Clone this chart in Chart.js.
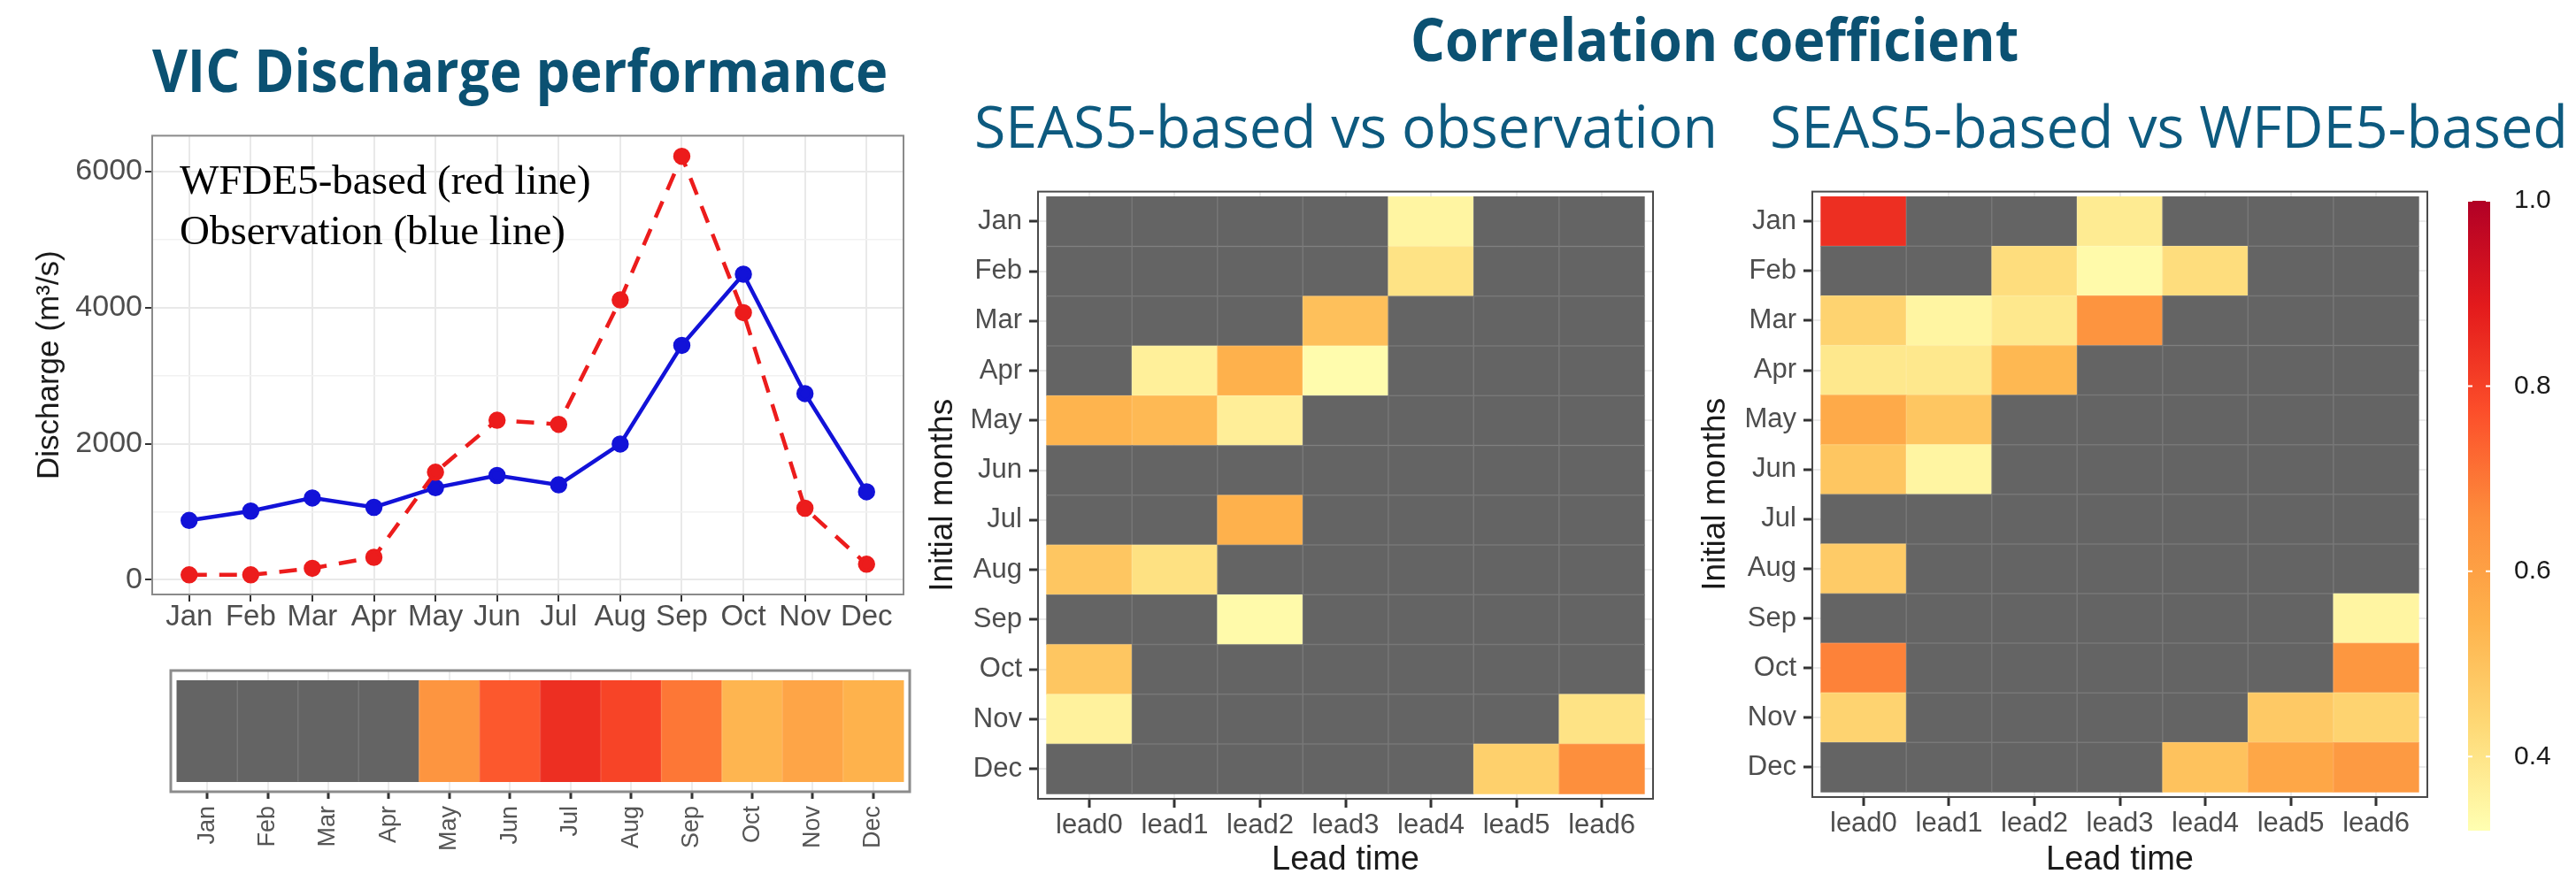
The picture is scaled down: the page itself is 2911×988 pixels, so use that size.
<!DOCTYPE html>
<html>
<head>
<meta charset="utf-8">
<script src="https://cdn.jsdelivr.net/npm/chart.js@4.4.1/dist/chart.umd.min.js"></script>
<style>
  html, body { margin: 0; padding: 0; background: #fff; }
  #page { position: relative; width: 2911px; height: 988px; overflow: hidden; background: #fff; }
  #page canvas { position: absolute; }
  .ttl { position: absolute; white-space: nowrap; transform-origin: 0 0; line-height: 1;
         font-family: 'Open Sans', 'Noto Sans', sans-serif; font-size: 66px; }
  .bold { font-weight: 700; color: #0b5172; }
  .reg { font-weight: 400; color: #0d5a7f; }
</style>
</head>
<body>
<div id="page">
  <canvas id="lineChart" width="1040" height="600" style="left:0;top:130px"></canvas>
  <canvas id="stripChart" width="1040" height="248" style="left:0;top:740px"></canvas>
  <canvas id="heatObs" width="860" height="798" style="left:1040px;top:190px"></canvas>
  <canvas id="heatWfde" width="860" height="798" style="left:1900px;top:190px"></canvas>
  <canvas id="colorBar" width="151" height="798" style="left:2760px;top:190px"></canvas>
  <div class="ttl bold" id="tVic">VIC Discharge performance</div>
  <div class="ttl bold" id="tCorr">Correlation coefficient</div>
  <div class="ttl reg" id="tObs">SEAS5-based vs observation</div>
  <div class="ttl reg" id="tWfde">SEAS5-based vs WFDE5-based</div>
</div>
<script>
// ---- data ----
const months = ['Jan', 'Feb', 'Mar', 'Apr', 'May', 'Jun', 'Jul', 'Aug', 'Sep', 'Oct', 'Nov', 'Dec'];
const leads = ['lead0', 'lead1', 'lead2', 'lead3', 'lead4', 'lead5', 'lead6'];

// discharge (m3/s)
const obsDischarge = [873, 1010, 1203, 1065, 1353, 1533, 1395, 1996, 3445, 4490, 2736, 1293];
const wfde5Discharge = [73, 73, 169, 331, 1581, 2345, 2285, 4112, 6223, 3926, 1052, 229];
const dischargeTicks = [0, 2000, 4000, 6000];
const dischargeMinor = [1000, 3000, 5000];

// correlation WFDE5-based vs observation, per month (null = grey)
const monthlyCorr = [null, null, null, null, 0.635, 0.755, 0.84, 0.795, 0.70, 0.537, 0.585, 0.547];

// rows = initial month, columns = lead0..lead6, null = grey cell
const corrSeasObs = [
  [null, null, null, null, 0.35, null, null],
  [null, null, null, null, 0.405, null, null],
  [null, null, null, 0.507, null, null, null],
  [null, 0.365, 0.55, 0.33, null, null, null],
  [0.54, 0.525, 0.37, null, null, null, null],
  [null, null, null, null, null, null, null],
  [null, null, 0.55, null, null, null, null],
  [0.49, 0.41, null, null, null, null, null],
  [null, null, 0.335, null, null, null, null],
  [0.49, null, null, null, null, null, null],
  [0.36, null, null, null, null, null, 0.405],
  [null, null, null, null, null, 0.46, 0.655]
];
const corrSeasWfde5 = [
  [0.84, null, null, 0.38, null, null, null],
  [null, null, 0.42, 0.335, 0.42, null, null],
  [0.45, 0.35, 0.39, 0.64, null, null, null],
  [0.39, 0.39, 0.53, null, null, null, null],
  [0.57, 0.49, null, null, null, null, null],
  [0.49, 0.35, null, null, null, null, null],
  [null, null, null, null, null, null, null],
  [0.475, null, null, null, null, null, null],
  [null, null, null, null, null, null, 0.35],
  [0.68, null, null, null, null, null, 0.63],
  [0.45, null, null, null, null, 0.48, 0.45],
  [null, null, null, null, 0.50, 0.58, 0.62]
];

const colorLimits = [0.32, 1.0];
const colorbarTicks = [0.4, 0.6, 0.8, 1.0];
const ylOrRd = ['#ffffb2', '#fed976', '#feb24c', '#fd8d3c', '#fc4e2a', '#e31a1c', '#b10026'];
const naColor = '#646464';

// ---- helpers ----
function hexRgb(h) {
  return [parseInt(h.slice(1, 3), 16), parseInt(h.slice(3, 5), 16), parseInt(h.slice(5, 7), 16)];
}
function corrColor(v) {
  if (v === null || v === undefined) return naColor;
  let t = (v - colorLimits[0]) / (colorLimits[1] - colorLimits[0]);
  t = Math.max(0, Math.min(1, t)) * (ylOrRd.length - 1);
  const i = Math.min(Math.floor(t), ylOrRd.length - 2);
  const f = t - i;
  const a = hexRgb(ylOrRd[i]), b = hexRgb(ylOrRd[i + 1]);
  const c = a.map((x, k) => Math.round(x + (b[k] - x) * f));
  return 'rgb(' + c.join(',') + ')';
}

Chart.defaults.font.family = "'Liberation Sans', Arial, sans-serif";
Chart.defaults.animation = false;

// frame around the panel (ggplot theme_bw border)
const panelBorder = {
  id: 'panelBorder',
  afterDatasetsDraw(chart, args, opts) {
    const { ctx, chartArea: a } = chart;
    ctx.save();
    ctx.strokeStyle = opts.color || '#333';
    ctx.lineWidth = opts.width || 2;
    ctx.strokeRect(a.left, a.top, a.right - a.left, a.bottom - a.top);
    ctx.restore();
  }
};

// faint seams between tiles
const tileSeams = {
  id: 'tileSeams',
  afterDatasetsDraw(chart, args, opts) {
    const { ctx, scales: { x, y } } = chart;
    const y0 = y.getPixelForValue(opts.rows ? -0.5 : 0), y1 = y.getPixelForValue(opts.rows ? opts.rows - 0.5 : 1);
    const x0 = x.getPixelForValue(-0.5), x1 = x.getPixelForValue(opts.cols - 0.5);
    ctx.save();
    ctx.strokeStyle = 'rgba(255,255,255,0.13)';
    ctx.lineWidth = 1.5;
    ctx.beginPath();
    for (let i = 0; i < opts.cols - 1; i++) {
      const px = x.getPixelForValue(i + 0.5);
      ctx.moveTo(px, y0); ctx.lineTo(px, y1);
    }
    for (let j = 0; j < (opts.rows || 1) - 1; j++) {
      const py = y.getPixelForValue(j + 0.5);
      ctx.moveTo(x0, py); ctx.lineTo(x1, py);
    }
    ctx.stroke();
    ctx.restore();
  }
};

// text annotation inside the discharge plot
const noteText = {
  id: 'noteText',
  afterDraw(chart, args, opts) {
    const { ctx, chartArea: a } = chart;
    ctx.save();
    ctx.fillStyle = '#000';
    ctx.font = "47px 'Liberation Serif', 'Times New Roman', serif";
    ctx.textBaseline = 'alphabetic';
    opts.lines.forEach((t, i) => ctx.fillText(t, a.left + 31, a.top + 66 + i * 57));
    ctx.restore();
  }
};

// ---- discharge line chart ----
new Chart(document.getElementById('lineChart'), {
  type: 'line',
  data: {
    datasets: [
      {
        label: 'WFDE5-based',
        data: wfde5Discharge.map((v, i) => ({ x: i, y: v })),
        borderColor: '#ec1c1c', backgroundColor: '#ec1c1c',
        pointBackgroundColor: '#ec1c1c', pointBorderColor: '#ec1c1c',
        borderWidth: 4.5, borderDash: [20, 14], pointRadius: 7.5, tension: 0
      },
      {
        label: 'Observation',
        data: obsDischarge.map((v, i) => ({ x: i, y: v })),
        borderColor: '#1212d8', backgroundColor: '#1212d8',
        pointBackgroundColor: '#1212d8', pointBorderColor: '#1212d8',
        borderWidth: 4.5, pointRadius: 7.5, tension: 0
      }
    ]
  },
  plugins: [panelBorder, noteText],
  options: {
    responsive: false,
    devicePixelRatio: 1,
    layout: { padding: { left: 0, top: 14, right: 19, bottom: 0 } },
    plugins: {
      legend: { display: false },
      tooltip: { enabled: false },
      panelBorder: { color: '#8a8a8a', width: 2 },
      noteText: { lines: ['WFDE5-based (red line)', 'Observation (blue line)'] }
    },
    scales: {
      x: {
        type: 'linear', min: -0.6, max: 11.6,
        afterBuildTicks: s => { s.ticks = months.map((m, i) => ({ value: i })); },
        afterFit: s => { s.height = 58; },
        ticks: { callback: v => months[v], autoSkip: false, maxRotation: 0, padding: 1,
                 font: { size: 33, lineHeight: 1 }, color: '#4d4d4d' },
        grid: { color: '#e9e9e9', lineWidth: 2, tickLength: 8, tickColor: '#333', tickWidth: 2 },
        border: { display: false }
      },
      y: {
        min: -215, max: 6525,
        afterBuildTicks: s => {
          s.ticks = dischargeTicks.concat(dischargeMinor).sort((a, b) => a - b).map(v => ({ value: v }));
        },
        afterFit: s => { s.width = 172; },
        ticks: { callback: v => (dischargeTicks.includes(v) ? String(v) : ''), padding: 3,
                 font: { size: 34 }, color: '#4d4d4d' },
        grid: {
          color: c => (c.tick && dischargeTicks.includes(c.tick.value) ? '#e9e9e9' : '#f1f1f1'),
          lineWidth: c => (c.tick && dischargeTicks.includes(c.tick.value) ? 2 : 1.5),
          tickColor: c => (c.tick && dischargeTicks.includes(c.tick.value) ? '#333' : 'rgba(0,0,0,0)'),
          tickLength: 8, tickWidth: 2
        },
        border: { display: false },
        title: { display: true, text: 'Discharge (m³/s)', color: '#1a1a1a',
                 font: { size: 35 }, padding: { top: 35, bottom: 0 } }
      }
    }
  }
});

// ---- monthly correlation strip ----
new Chart(document.getElementById('stripChart'), {
  type: 'bar',
  data: {
    datasets: [{
      data: months.map((m, i) => ({ x: i, y: [0, 1], v: monthlyCorr[i] })),
      backgroundColor: c => corrColor(c.raw ? c.raw.v : null),
      borderWidth: 0, barPercentage: 1, categoryPercentage: 1
    }]
  },
  plugins: [tileSeams, panelBorder],
  options: {
    responsive: false,
    devicePixelRatio: 1,
    layout: { padding: { left: 193, top: 18, right: 12, bottom: 0 } },
    plugins: {
      legend: { display: false },
      tooltip: { enabled: false },
      tileSeams: { cols: months.length, rows: 0 },
      panelBorder: { color: '#8c8c8c', width: 3 }
    },
    scales: {
      x: {
        type: 'linear', min: -0.6, max: 11.6, offset: false,
        afterBuildTicks: s => { s.ticks = months.map((m, i) => ({ value: i })); },
        afterFit: s => { s.height = 93; },
        ticks: { callback: v => months[v], autoSkip: false, minRotation: 90, maxRotation: 90,
                 padding: 8, font: { size: 27 }, color: '#555' },
        grid: { offset: false, color: '#ececec', lineWidth: 2, tickLength: 8, tickColor: '#333', tickWidth: 3 },
        border: { display: false }
      },
      y: { display: false, min: -0.1, max: 1.1 }
    }
  }
});

// ---- lead-time heatmaps ----
function heatCells(matrix) {
  const cells = [];
  matrix.forEach((row, r) => row.forEach((v, c) => cells.push({ x: c, y: [r - 0.5, r + 0.5], v: v })));
  return cells;
}

function heatmap(id, matrix, yWidth, yTitlePad, padRight, padTop, xHeight) {
  return new Chart(document.getElementById(id), {
    type: 'bar',
    data: {
      datasets: [{
        data: heatCells(matrix),
        backgroundColor: c => corrColor(c.raw ? c.raw.v : null),
        borderWidth: 0, barPercentage: 1, categoryPercentage: 1
      }]
    },
    plugins: [tileSeams, panelBorder],
    options: {
      responsive: false,
      devicePixelRatio: 1,
      layout: { padding: { left: 0, top: padTop, right: padRight, bottom: 0 } },
      plugins: {
        legend: { display: false },
        tooltip: { enabled: false },
        tileSeams: { cols: leads.length, rows: months.length },
        panelBorder: { color: '#4a4a4a', width: 2 }
      },
      scales: {
        x: {
          type: 'linear', min: -0.6, max: leads.length - 0.4, offset: false,
          afterBuildTicks: s => { s.ticks = leads.map((l, i) => ({ value: i })); },
          afterFit: s => { s.height = xHeight; },
          ticks: { callback: v => leads[v], autoSkip: false, maxRotation: 0, padding: 2,
                   font: { size: 31 }, color: '#4d4d4d' },
          grid: { offset: false, color: '#ebebeb', lineWidth: 2, tickLength: 10, tickColor: '#333', tickWidth: 3 },
          border: { display: false },
          title: { display: true, text: 'Lead time', color: '#1a1a1a',
                   font: { size: 38, lineHeight: 0.8 }, padding: { top: 0, bottom: 0 } }
        },
        y: {
          type: 'linear', min: -0.6, max: months.length - 0.4, reverse: true,
          afterBuildTicks: s => { s.ticks = months.map((m, i) => ({ value: i })); },
          afterFit: s => { s.width = yWidth; },
          ticks: { callback: v => months[v], autoSkip: false, padding: 8,
                   font: { size: 31 }, color: '#4d4d4d' },
          grid: { color: '#ebebeb', lineWidth: 2, tickLength: 10, tickColor: '#333', tickWidth: 3 },
          border: { display: false },
          title: { display: true, text: 'Initial months', color: '#1a1a1a',
                   font: { size: 37 }, padding: { top: yTitlePad, bottom: 0 } }
        }
      }
    }
  });
}

heatmap('heatObs', corrSeasObs, 133, 4, 32, 16, 85);
heatmap('heatWfde', corrSeasWfde5, 148, 17, 17, 15, 87);

// ---- colour bar ----
const colorbarTicksMarks = {
  id: 'colorbarTicksMarks',
  afterDatasetsDraw(chart) {
    const { ctx, chartArea: a, scales: { y } } = chart;
    ctx.save();
    ctx.strokeStyle = '#fff';
    ctx.lineWidth = 2;
    colorbarTicks.forEach(v => {
      const py = y.getPixelForValue(v);
      ctx.beginPath();
      ctx.moveTo(a.left, py); ctx.lineTo(a.left + 5, py);
      ctx.moveTo(a.right - 5, py); ctx.lineTo(a.right, py);
      ctx.stroke();
    });
    ctx.restore();
  }
};

new Chart(document.getElementById('colorBar'), {
  type: 'bar',
  data: {
    labels: [''],
    datasets: [{
      data: [colorLimits],
      backgroundColor: c => {
        const chart = c.chart;
        if (!chart.chartArea) return ylOrRd[3];
        const ys = chart.scales.y;
        const g = chart.ctx.createLinearGradient(0, ys.getPixelForValue(colorLimits[0]), 0, ys.getPixelForValue(colorLimits[1]));
        ylOrRd.forEach((col, i) => g.addColorStop(i / (ylOrRd.length - 1), col));
        return g;
      },
      borderWidth: 0, barPercentage: 1, categoryPercentage: 1
    }]
  },
  plugins: [colorbarTicksMarks],
  options: {
    responsive: false,
    devicePixelRatio: 1,
    layout: { padding: { left: 29, top: 26, right: 0, bottom: 49 } },
    plugins: { legend: { display: false }, tooltip: { enabled: false } },
    scales: {
      x: { display: false },
      y: {
        position: 'right', min: colorLimits[0], max: colorLimits[1],
        afterBuildTicks: s => { s.ticks = colorbarTicks.map(v => ({ value: v })); },
        afterFit: s => { s.width = 97; },
        ticks: { callback: v => v.toFixed(1), padding: 19, font: { size: 30 }, color: '#1a1a1a' },
        grid: { display: false },
        border: { display: false }
      }
    }
  }
});

// ---- titles: place by baseline and stretch to the measured width ----
function placeTitle(id, left, baseline, width) {
  const el = document.getElementById(id);
  el.style.left = left + 'px';
  el.style.top = '0px';
  const probe = document.createElement('span');
  probe.style.cssText = 'display:inline-block;width:0;height:0;vertical-align:baseline';
  el.appendChild(probe);
  el.style.top = (baseline - probe.offsetTop) + 'px';
  el.style.transform = 'scaleX(' + (width / el.offsetWidth).toFixed(4) + ')';
}
placeTitle('tVic', 172, 104, 831);
placeTitle('tCorr', 1594, 69, 687);
placeTitle('tObs', 1101, 167, 840);
placeTitle('tWfde', 2000, 167, 902);
</script>
</body>
</html>
